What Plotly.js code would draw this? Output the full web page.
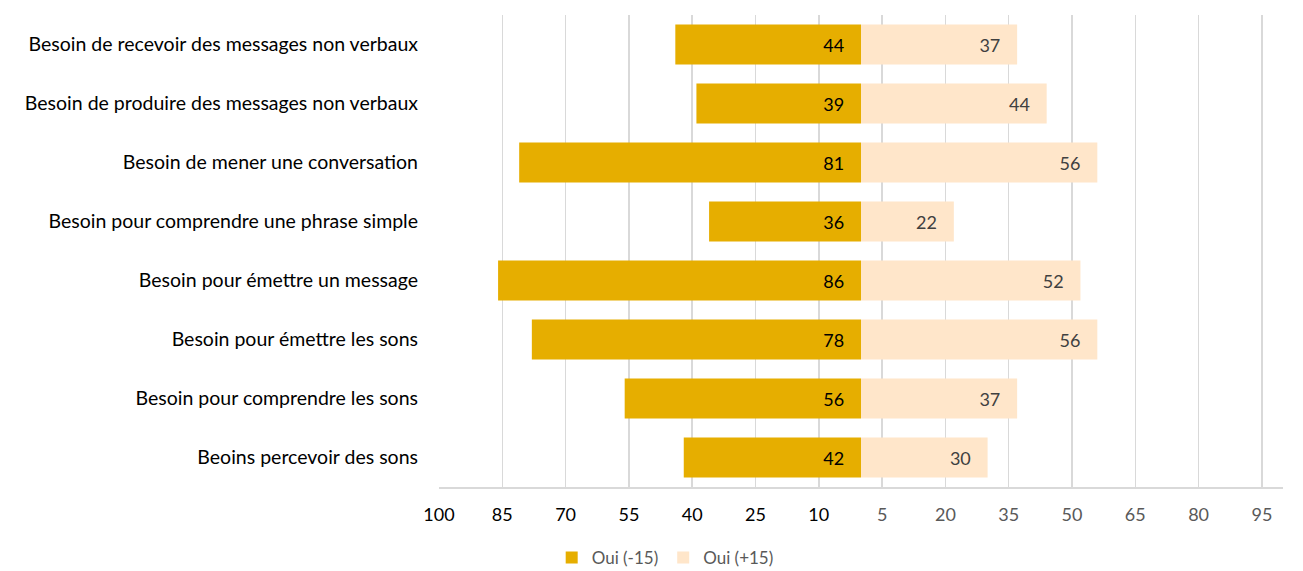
<!DOCTYPE html>
<html>
<head>
<meta charset="utf-8">
<script src="https://cdn.plot.ly/plotly-3.0.1.min.js"></script>
<style>html,body{margin:0;padding:0;background:#fff;}#chart{width:1303px;height:571px;}</style>
</head>
<body>
<div id="chart"></div>
<script>
const categories = [
  "Besoin de recevoir des messages non verbaux",
  "Besoin de produire des messages non verbaux",
  "Besoin de mener une conversation",
  "Besoin pour comprendre une phrase simple",
  "Besoin pour émettre un message",
  "Besoin pour émettre les sons",
  "Besoin pour comprendre les sons",
  "Beoins percevoir des sons"
];
const seriesNames = ["Oui (-15)", "Oui (+15)"];
const valuesMinus = [44, 39, 81, 36, 86, 78, 56, 42];
const valuesPlus = [37, 44, 56, 22, 52, 56, 37, 30];
const tickValues = [-100, -85, -70, -55, -40, -25, -10, 5, 20, 35, 50, 65, 80, 95];
const tickLabels = ["100", "85", "70", "55", "40", "25", "10", "5", "20", "35", "50", "65", "80", "95"];

const FONT = "Lato, 'Open Sans', sans-serif";
const pad = "\u00a0\u00a0\u00a0";

const traces = [
  {
    type: "bar", orientation: "h", name: seriesNames[0],
    y: categories, x: valuesMinus.map(v => -v),
    text: valuesMinus.map(v => String(v) + pad),
    textposition: "inside", insidetextanchor: "start",
    textfont: {family: FONT, size: 18, color: "#000000"},
    marker: {color: "#E6AE00"},
    hoverinfo: "skip"
  },
  {
    type: "bar", orientation: "h", name: seriesNames[1],
    y: categories, x: valuesPlus,
    text: valuesPlus.map(v => String(v) + pad),
    textposition: "inside", insidetextanchor: "end",
    textfont: {family: FONT, size: 18, color: "#404040"},
    marker: {color: "#FFE6CA"},
    hoverinfo: "skip"
  }
];

const tickText = tickLabels.map((t, i) =>
  tickValues[i] < 0 ? '<span style="color:#000000">' + t + '</span>' : '<span style="color:#595959">' + t + '</span>');

const boundaries = [];
for (let i = 0; i <= categories.length; i++) boundaries.push(i - 0.5);

const layout = {
  width: 1303, height: 571,
  margin: {l: 439, r: 20, t: 15, b: 84},
  paper_bgcolor: "#ffffff", plot_bgcolor: "#ffffff",
  barmode: "relative", bargap: 0.32,
  font: {family: FONT, size: 18, color: "#000000"},
  xaxis: {
    range: [-100, 100], tickvals: tickValues, ticktext: tickText,
    showgrid: true, gridcolor: "#d9d9d9", gridwidth: 1.5,
    zeroline: false, showline: true, linecolor: "#d9d9d9", linewidth: 1.5,
    ticks: "", ticklabelstandoff: 11,
    tickfont: {family: FONT, size: 18}
  },
  yaxis: {
    type: "category", categoryarray: categories, autorange: "reversed",
    showgrid: false, zeroline: false, showline: false, ticks: "",
    ticklabelstandoff: 20,
    tickfont: {family: FONT, size: 19.5, color: "#000000"}
  },
  yaxis2: {
    overlaying: "y", anchor: "free", position: 0.5, side: "left",
    range: [categories.length - 0.5, -0.5],
    tickvals: boundaries, showticklabels: false,
    ticks: "outside", ticklen: 5, tickcolor: "#bfbfbf", tickwidth: 1.2,
    showline: true, linecolor: "#bfbfbf", linewidth: 1.2,
    showgrid: false, zeroline: false
  },
  showlegend: true,
  legend: {
    orientation: "h", x: 0.268, xanchor: "center",
    yref: "container", y: 0.023, yanchor: "middle",
    font: {family: FONT, size: 17, color: "#595959"},
    traceorder: "normal", itemwidth: 30
  }
};

Plotly.newPlot("chart", traces, layout, {displayModeBar: false, staticPlot: true});
</script>
</body>
</html>
